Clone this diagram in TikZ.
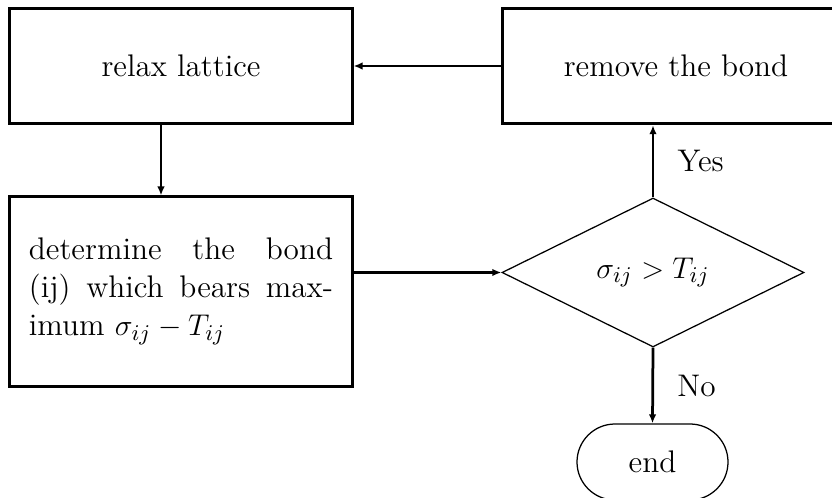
\documentclass[tikz,border=0pt]{standalone}
\usetikzlibrary{shapes.geometric,arrows.meta}

\tikzset{
  stepbox/.style={draw, line width=1.2pt, inner sep=0pt, minimum height=46.2pt},
  flow/.style={line width=1.1pt, -{Latex[length=3.6pt,width=3pt]}},
}

\begin{document}
\begin{tikzpicture}[x=0.4pt, y=-0.4pt, font=\fontsize{12.5}{15.2}\selectfont]
        \clip (0,0) rectangle (832,498);

        \node [stepbox, minimum width=136.8pt] (relax) at (181,66) {relax lattice};
        \node [stepbox, minimum width=139.2pt] (remove) at (676,66) {remove the bond};

        \node [stepbox, minimum width=136.8pt, minimum height=75.6pt,
          text width=121.6pt, align=justify] (determine) at (181,291.5)
          {determine the bond\linebreak (ij) which bears max-\linebreak imum $\sigma_{ij}-T_{ij}$};

        \node [draw, diamond, line width=0.5pt, inner sep=0pt, aspect=2,
          minimum width=120.8pt, minimum height=59.6pt] (test) at (653,272.5)
          {$\sigma_{ij}>T_{ij}$};

        \node [draw, rounded corners=15.2pt, line width=0.5pt,
          minimum width=60.4pt, minimum height=30.4pt] (end) at (652.5,462) {end};

        \draw [flow] (remove.west) -- (relax.east);
        \draw [flow, line width=0.8pt] ([xshift=-8pt]relax.south)
          -- ([xshift=-8pt]relax.south |- determine.north);
        \draw [flow] (determine.east |- test.west) -- (test.west);
        \draw [flow] (test.north) -- (test.north |- remove.south)
          node [midway, right=6pt] {Yes};
        \draw [flow] (test.south) -- (end.north)
          node [midway, right=6pt] {No};
      \end{tikzpicture}
\end{document}
